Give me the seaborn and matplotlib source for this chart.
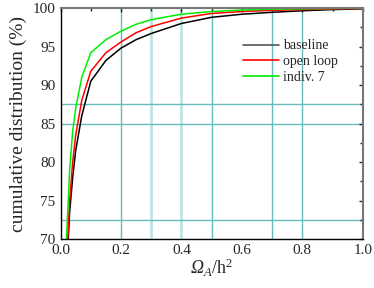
import numpy as np
import matplotlib
matplotlib.use("Agg")
import matplotlib.pyplot as plt
import seaborn as sns
import pandas as pd

# omega values (x) shared by all curves
omega = [0.015, 0.02, 0.03, 0.04, 0.05, 0.07, 0.1, 0.15, 0.2, 0.25, 0.3,
         0.4, 0.5, 0.6, 0.7, 0.8, 0.9, 1.0]
baseline = [60.0, 66.0, 73.5, 78.0, 81.5, 86.0, 90.5, 93.2, 94.8, 95.9, 96.7,
            98.0, 98.8, 99.2, 99.45, 99.65, 99.8, 99.9]
open_loop = [61.0, 67.0, 75.0, 80.0, 83.5, 88.0, 91.8, 94.2, 95.6, 96.8, 97.6,
             98.7, 99.3, 99.55, 99.7, 99.8, 99.88, 99.95]
indiv7 = [63.0, 70.5, 79.0, 84.0, 87.0, 91.0, 94.2, 95.9, 97.0, 97.9, 98.5,
          99.2, 99.55, 99.75, 99.85, 99.9, 99.95, 99.97]

labels = ["baseline", "open loop", "indiv. 7"]
colors = ["black", "red", "#00ee00"]
legend_colors = ["#555555", "red", "#00ee00"]

# grid lines in the original are irregular
vgrid_dark = [0.2, 0.5, 0.7, 0.8]
vgrid_light = [0.3, 0.4]
hgrid = [72.5, 85, 87.5]

df = pd.DataFrame({"omega": omega * 3,
                   "value": baseline + open_loop + indiv7,
                   "series": [labels[0]] * len(omega) + [labels[1]] * len(omega)
                             + [labels[2]] * len(omega)})

sns.set_style("white")
plt.rcParams["font.family"] = ["Liberation Serif", "DejaVu Serif"]
plt.rcParams["mathtext.fontset"] = "custom"
plt.rcParams["mathtext.rm"] = "Liberation Serif"
plt.rcParams["mathtext.it"] = "Liberation Serif:italic"
# mathtext forces greek capitals upright in \mathit, so use sf slot for italic
plt.rcParams["mathtext.sf"] = "Liberation Serif:italic"

fig, ax = plt.subplots(figsize=(3.74, 2.88), dpi=100)
fig.subplots_adjust(left=0.162, right=0.97, top=0.972, bottom=0.17)

for v in vgrid_dark:
    ax.axvline(v, color="#66bbbb", lw=1.0, zorder=0)
for v in vgrid_light:
    ax.axvline(v, color="#c0e4e4", lw=2.0, zorder=0)
for h in hgrid:
    ax.axhline(h, color="#66bbbb", lw=1.0, zorder=0)

sns.lineplot(data=df, x="omega", y="value", hue="series", palette=colors,
             lw=1.1, ax=ax, legend=False)

handles = [plt.Line2D([], [], color=c, lw=1.2) for c in legend_colors]
ax.legend(handles, labels, loc="upper left", bbox_to_anchor=(0.57, 0.906),
          frameon=False, fontsize=10, handlelength=2.6, labelspacing=0.2,
          handletextpad=0.3, borderpad=0.2)

ax.set_xlim(0, 1.0)
ax.set_ylim(70, 100)
ax.set_xticks(np.arange(0, 1.01, 0.2))
ax.set_xticks(np.arange(0.1, 1.0, 0.2), minor=True)
ax.set_yticks(np.arange(70, 101, 5))
ax.set_yticks(np.arange(72.5, 100, 5), minor=True)
ax.tick_params(direction="in", which="both", top=True, right=True,
               labelsize=11, length=3, width=1)
ax.tick_params(which="minor", length=2)
ax.xaxis.set_major_formatter(matplotlib.ticker.FormatStrFormatter("%.1f"))

for s in ["left", "bottom"]:
    ax.spines[s].set_color("black")
    ax.spines[s].set_linewidth(1.0)
for s in ["top", "right"]:
    ax.spines[s].set_color("#777777")
    ax.spines[s].set_linewidth(1.5)

ax.set_xlabel(r"$\mathsf{Ω}_{\mathsf{A}}$/h$^2$", fontsize=13, labelpad=0)
ax.set_ylabel("cumulative distribution (%)", fontsize=14, labelpad=4)

fig.savefig("out.png", dpi=100)
